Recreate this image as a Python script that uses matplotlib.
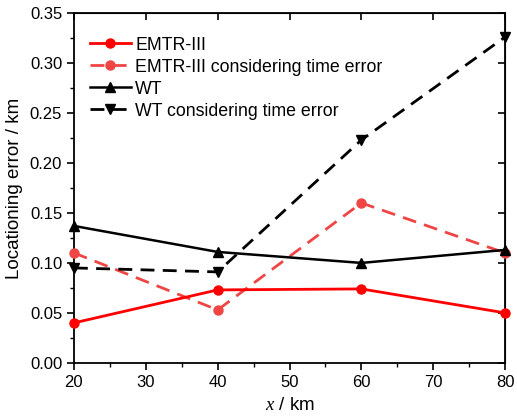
import matplotlib
matplotlib.use("Agg")
import matplotlib.pyplot as plt
from matplotlib.ticker import MultipleLocator

plt.rcParams['font.family'] = ['Liberation Sans', 'DejaVu Sans']
plt.rcParams['mathtext.fontset'] = 'custom'
plt.rcParams['mathtext.it'] = 'Liberation Serif:italic'
plt.rcParams['mathtext.rm'] = 'Liberation Sans'

x = [20, 40, 60, 80]
emtr = [0.040, 0.073, 0.074, 0.050]
emtr_te = [0.110, 0.053, 0.160, 0.110]
wt = [0.137, 0.111, 0.100, 0.113]
wt_te = [0.095, 0.091, 0.223, 0.326]
labels = ["EMTR-III", "EMTR-III considering time error", "WT", "WT considering time error"]

fig = plt.figure(figsize=(5.17, 4.20), dpi=100)
ax = fig.add_axes([0.143, 0.136, 0.834, 0.833])

ax.plot(x, emtr, color='#ff0000', lw=2, marker='o', ms=6.5, label=labels[0], clip_on=False, zorder=5)
ax.plot(x, emtr_te, color='#f04545', lw=2, ls=(0, (5, 3)), marker='o', ms=6.5, label=labels[1], clip_on=False, zorder=4)
ax.plot(x, wt, color='black', lw=1.8, marker='^', ms=7, label=labels[2], clip_on=False, zorder=5)
ax.plot(x, wt_te, color='black', lw=2, ls=(0, (5, 3)), marker='v', ms=7, label=labels[3], clip_on=False, zorder=5)

ax.set_xlim(20, 80)
ax.set_ylim(0, 0.35)
ax.xaxis.set_major_locator(MultipleLocator(10))
ax.xaxis.set_minor_locator(MultipleLocator(5))
ax.yaxis.set_major_locator(MultipleLocator(0.05))
ax.yaxis.set_minor_locator(MultipleLocator(0.025))
ax.yaxis.set_major_formatter(plt.FormatStrFormatter('%.2f'))
ax.tick_params(which='major', direction='out', length=5, width=1.2, labelsize=12)
ax.tick_params(which='minor', direction='out', length=3, width=1.0)
for s in ax.spines.values():
    s.set_linewidth(1.3)

top = ax.secondary_xaxis('top')
top.xaxis.set_major_locator(MultipleLocator(10))
top.tick_params(direction='in', length=5, width=1.2, labeltop=False)
right = ax.secondary_yaxis('right')
right.yaxis.set_major_locator(MultipleLocator(0.05))
right.tick_params(direction='in', length=5, width=1.2, labelright=False)

ax.set_xlabel("$x$ / km", fontsize=13.5, labelpad=5)
ax.set_ylabel("Locationing error / km", fontsize=13.5, labelpad=5)

ax.legend(loc='upper left', bbox_to_anchor=(0.0, 0.978), frameon=False, fontsize=12.8,
          handlelength=2.3, handletextpad=0.25, labelspacing=0.28, borderaxespad=0.5)

fig.savefig("out.png", dpi=100)
